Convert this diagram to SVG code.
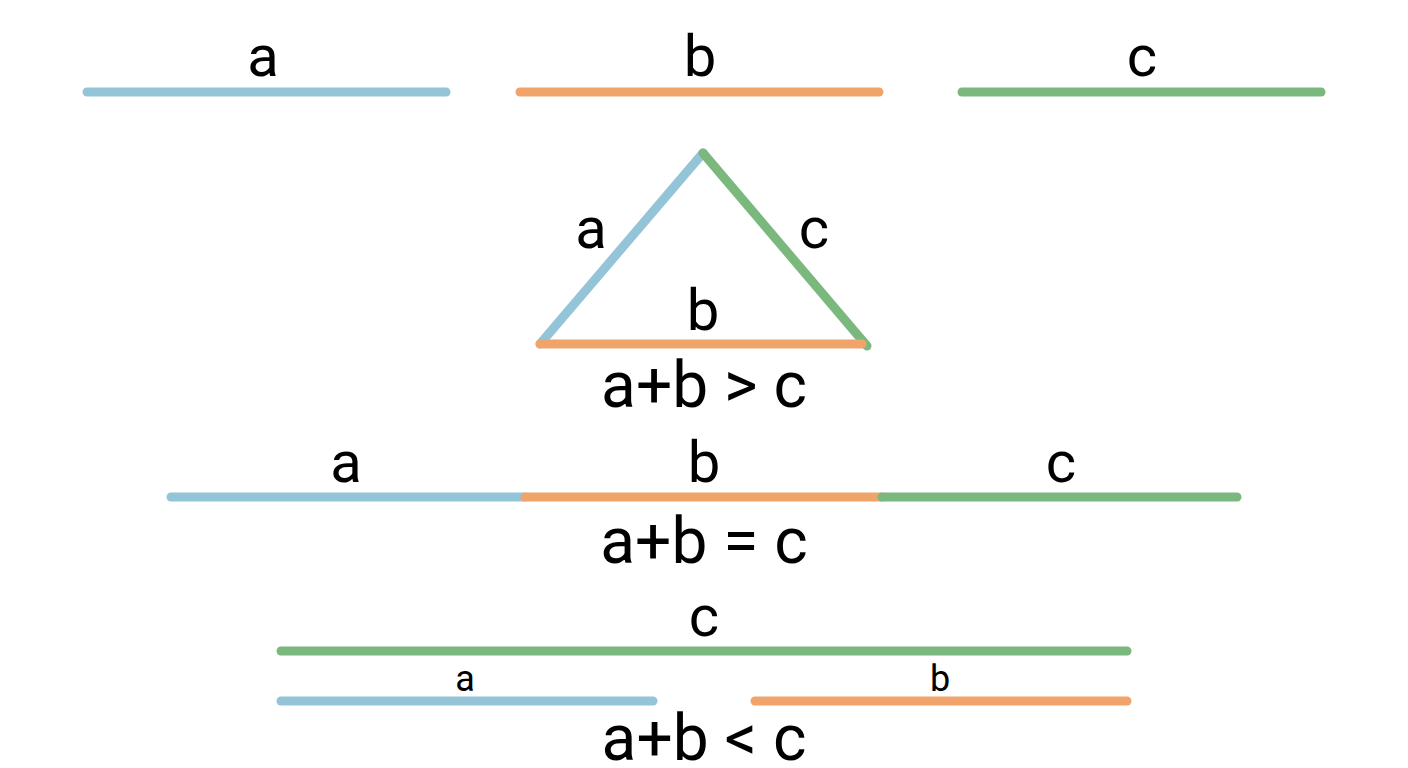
<svg xmlns="http://www.w3.org/2000/svg" width="1408" height="768" viewBox="0 0 1408 768">
<style>
line,polyline{stroke-width:9;stroke-linecap:round;fill:none}
.a{stroke:#94c4d8}.b{stroke:#f0a46a}.c{stroke:#7ab87e}
text{font-family:Roboto,"Liberation Sans",sans-serif;fill:#000;text-anchor:middle}
.l{font-size:58px}.f{font-size:64px}.s{font-size:36px}
</style>
<rect width="1408" height="768" fill="#fff"/>
<g id="connectors">
<line class="a" x1="87" y1="92" x2="446" y2="92"/>
<line class="b" x1="520" y1="92" x2="879" y2="92"/>
<line class="c" x1="962" y1="92" x2="1321" y2="92"/>
<line class="a" x1="540" y1="344" x2="703" y2="153"/>
<line class="c" x1="703" y1="153" x2="867" y2="346"/>
<line class="b" x1="540" y1="344" x2="862" y2="344"/>
<line class="a" x1="171" y1="497" x2="525" y2="497"/>
<line class="b" x1="525" y1="497" x2="882" y2="497"/>
<line class="c" x1="882" y1="497" x2="1237" y2="497"/>
<line class="c" x1="281" y1="651" x2="1127" y2="651"/>
<line class="a" x1="281" y1="701" x2="653" y2="701"/>
<line class="b" x1="755" y1="701" x2="1127" y2="701"/>
</g>
<g id="labels">
<text class="l" x="263" y="76">a</text>
<text class="l" x="700" y="76">b</text>
<text class="l" x="1142" y="76">c</text>
<text class="l" x="591" y="248">a</text>
<text class="l" x="814" y="248">c</text>
<text class="l" x="703" y="330">b</text>
<text class="f" x="704" y="407">a+b &gt; c</text>
<text class="l" x="346" y="482">a</text>
<text class="l" x="704" y="482">b</text>
<text class="l" x="1061" y="482">c</text>
<text class="f" x="704" y="563">a+b = c</text>
<text class="l" x="704" y="636">c</text>
<text class="s" x="465" y="691">a</text>
<text class="s" x="940" y="691">b</text>
<text class="f" x="704" y="760">a+b &lt; c</text>
</g>
</svg>
